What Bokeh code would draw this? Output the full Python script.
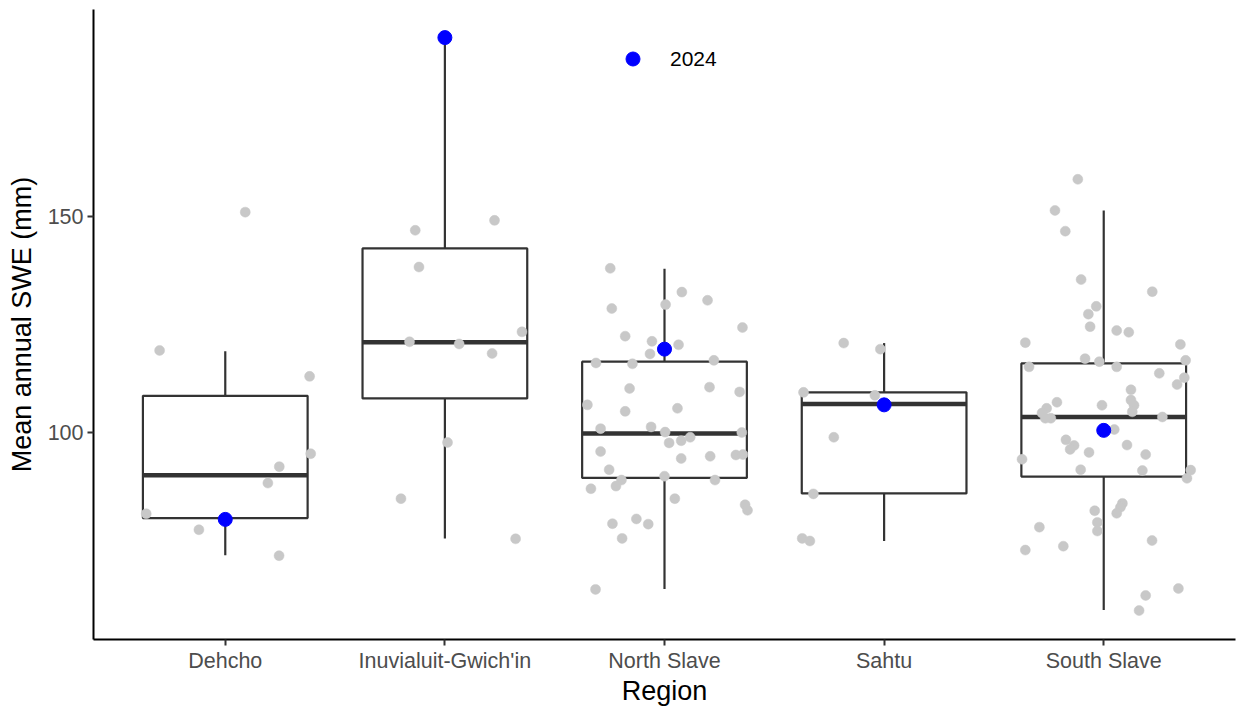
from bokeh.plotting import figure
from bokeh.models import Range1d, FixedTicker, Legend, LegendItem, ColumnDataSource
from bokeh.embed import file_html
from bokeh.resources import INLINE

# ---------------- data ----------------
regions = ["Dehcho", "Inuvialuit-Gwich'in", "North Slave", "Sahtu", "South Slave"]

# box-plot statistics per region
box_lower = [71.6, 75.5, 63.8, 74.9, 58.9]
box_q1 = [80.2, 107.9, 89.5, 85.9, 89.8]
box_median = [90.1, 120.9, 99.8, 106.6, 103.6]
box_q3 = [108.5, 142.6, 116.4, 109.3, 116.0]
box_upper = [118.8, 191.4, 137.9, 120.7, 151.4]

# 2024 value per region
swe_2024 = [79.9, 191.4, 119.3, 106.4, 100.5]

# yearly values per region (grey jittered points) and their jitter (category units)
dehcho_swe = [151.0, 119.0, 113.0, 95.1, 92.1, 88.3, 81.2, 77.5, 71.5]
dehcho_jit = [0.091, -0.299, 0.384, 0.389, 0.246, 0.194, -0.360, -0.120, 0.245]

inuvialuit_swe = [146.8, 149.1, 138.3, 121.0, 120.5, 118.3, 123.3, 97.7, 84.7, 75.4]
inuvialuit_jit = [-0.135, 0.226, -0.118, -0.161, 0.065, 0.215, 0.351, 0.012, -0.200, 0.322]

north_slave_swe = [138.0, 132.5, 129.6, 128.7, 130.6, 124.3, 122.3, 121.1, 120.3, 118.2,
                   116.1, 115.9, 116.7, 110.2, 110.5, 109.4, 106.4, 104.9, 105.6, 100.9,
                   101.3, 100.1, 100.0, 97.6, 98.1, 98.9, 95.6, 94.0, 94.5, 94.8,
                   94.9, 91.4, 89.9, 89.0, 87.6, 89.0, 87.0, 84.7, 83.3, 82.0,
                   78.9, 80.0, 78.8, 75.5, 63.7]
north_slave_jit = [-0.247, 0.079, 0.005, -0.240, 0.196, 0.355, -0.179, -0.057, 0.064, -0.066,
                   -0.312, -0.146, 0.225, -0.159, 0.205, 0.342, -0.351, -0.179, 0.059, -0.291,
                   -0.061, 0.003, 0.352, 0.021, 0.076, 0.117, -0.291, 0.076, 0.208, 0.325,
                   0.357, -0.252, 0.000, -0.196, -0.221, 0.230, -0.335, 0.047, 0.367, 0.378,
                   -0.237, -0.128, -0.074, -0.193, -0.314]

sahtu_swe = [120.7, 119.3, 109.3, 108.6, 98.9, 85.8, 75.5, 74.9]
sahtu_jit = [-0.184, -0.017, -0.367, -0.042, -0.229, -0.322, -0.373, -0.338]

south_slave_swe = [158.6, 151.4, 146.6, 135.4, 132.6, 129.2, 127.4, 124.5, 123.6, 123.2,
                   120.8, 120.4, 117.1, 116.4, 115.2, 115.2, 116.7, 113.7, 112.7, 111.1,
                   109.9, 107.0, 107.5, 106.3, 104.8, 106.3, 105.6, 104.5, 103.3, 103.3,
                   103.6, 100.7, 98.3, 97.0, 96.1, 95.4, 97.1, 94.9, 93.8, 91.4,
                   91.2, 91.3, 89.4, 83.6, 82.7, 81.3, 81.9, 79.2, 77.2, 78.1,
                   72.8, 73.7, 75.0, 63.9, 62.3, 58.8]
south_slave_jit = [-0.118, -0.222, -0.175, -0.103, 0.221, -0.034, -0.070, -0.062, 0.059, 0.114,
                   -0.357, 0.349, -0.085, -0.020, 0.059, -0.340, 0.373, 0.253, 0.367, 0.334,
                   0.124, -0.213, 0.124, 0.138, 0.130, -0.008, -0.260, -0.281, -0.266, -0.241,
                   0.267, 0.048, -0.172, -0.135, -0.153, -0.067, 0.106, 0.191, -0.372, -0.105,
                   0.176, 0.396, 0.379, 0.085, 0.076, 0.059, -0.041, -0.029, -0.029, -0.293,
                   -0.357, -0.184, 0.220, 0.340, 0.191, 0.161]

yearly_swe = [dehcho_swe, inuvialuit_swe, north_slave_swe, sahtu_swe, south_slave_swe]
yearly_jit = [dehcho_jit, inuvialuit_jit, north_slave_jit, sahtu_jit, south_slave_jit]

# ---------------- figure ----------------
FONT = "Liberation Sans"
BOX_W = 0.75
pos = [i + 1 for i in range(len(regions))]

p = figure(width=1238, height=708, output_backend="svg", toolbar_location=None,
           x_range=Range1d(0.4, 5.6), y_range=Range1d(52.1, 197.9),
           min_border_left=93, min_border_right=3, min_border_top=9, min_border_bottom=68)
p.outline_line_color = None
p.grid.visible = False
p.background_fill_color = "white"
p.border_fill_color = "white"

box_src = ColumnDataSource(dict(
    x=pos, lo=box_lower, q1=box_q1, med=box_median, q3=box_q3, hi=box_upper,
    left=[v - BOX_W / 2 for v in pos], right=[v + BOX_W / 2 for v in pos]))

# whiskers
p.segment(x0="x", x1="x", y0="q3", y1="hi", source=box_src, line_color="#333333", line_width=2.2)
p.segment(x0="x", x1="x", y0="lo", y1="q1", source=box_src, line_color="#333333", line_width=2.2)
# boxes
p.quad(left="left", right="right", bottom="q1", top="q3", source=box_src,
       fill_color="white", line_color="#333333", line_width=2.2)
# medians
p.segment(x0="left", x1="right", y0="med", y1="med", source=box_src,
          line_color="#333333", line_width=4.5)

# grey jittered points
px, py = [], []
for i, (vals, jit) in enumerate(zip(yearly_swe, yearly_jit)):
    for v, j in zip(vals, jit):
        px.append(pos[i] + j)
        py.append(v)
p.scatter(px, py, size=10, fill_color="#c8c8c8", line_color="#c8c8c8", line_width=0.5)

# 2024 points
blue = p.scatter(pos, swe_2024, size=14, fill_color="#0000ff", line_color="#0000ff")

legend = Legend(items=[LegendItem(label="2024", renderers=[blue])],
                location=(522, 563), margin=0, padding=0, spacing=0,
                glyph_width=35, glyph_height=35, label_height=35, label_standoff=20,
                border_line_color=None, background_fill_alpha=0,
                label_text_font=FONT, label_text_font_size="21px", label_text_color="black")
p.add_layout(legend)

# axes
for ax in (p.xaxis[0], p.yaxis[0]):
    ax.axis_line_color = "black"
    ax.axis_line_width = 2
    ax.major_tick_line_color = "#333333"
    ax.major_tick_line_width = 2
    ax.major_tick_out = 6
    ax.major_tick_in = 0
    ax.minor_tick_line_color = None
    ax.major_label_text_font = FONT
    ax.major_label_text_font_size = "21.5px"
    ax.major_label_text_color = "#4d4d4d"
    ax.axis_label_text_font = FONT
    ax.axis_label_text_font_size = "27px"
    ax.axis_label_text_font_style = "normal"
    ax.axis_label_text_color = "black"

p.xaxis.ticker = FixedTicker(ticks=pos)
p.xaxis.major_label_overrides = {v: r for v, r in zip(pos, regions)}
p.xaxis.axis_label = "Region"
p.xaxis.major_label_standoff = 3
p.xaxis.axis_label_standoff = 0

p.yaxis.ticker = FixedTicker(ticks=[100, 150])
p.yaxis.axis_label = "Mean annual SWE (mm)"
p.yaxis.major_label_standoff = 4
p.yaxis.axis_label_standoff = 8

open("out.html", "w").write(file_html(p, INLINE))
